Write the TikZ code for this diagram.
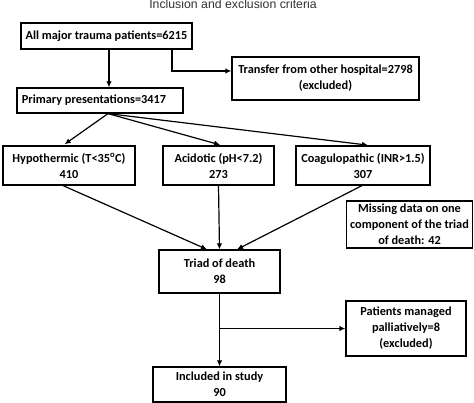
\documentclass[tikz,border=0pt]{standalone}
\usepackage{fontspec}
\setmainfont{Carlito}
\newfontfamily\titlefont{Liberation Sans}
\usetikzlibrary{arrows.meta}
\tikzset{
  box/.style={draw=black, line width=1.2pt, fill=white, align=center, inner sep=1pt,
    font=\bfseries\fontsize{12.3}{16}\selectfont},
  arr/.style={line width=1.2pt, -{Latex[length=6pt,width=5.5pt]}}
}
\begin{document}
\begin{tikzpicture}[x=1pt,y=-1pt]
\useasboundingbox[fill=white] (0,0) rectangle (474,403);
\node[font=\titlefont\fontsize{12.3}{14}\selectfont, text=black!80, anchor=base, inner sep=0pt] (title) at (233,9) {Inclusion and exclusion criteria};

\node[box, minimum width=171pt, minimum height=26pt] (b1) at (106.5,36) {All major trauma patients=6215};
\node[box, minimum width=166pt, minimum height=25pt] (b2) at (100,100.5) {Primary presentations=3417\hspace{12pt}};
\node[box, minimum width=187pt, minimum height=43pt] (tr) at (325.5,78.5) {Transfer from other hospital=2798\\(excluded)};
\node[box, minimum width=132pt, minimum height=39pt] (h) at (69,165.5) {Hypothermic (T<35\textsuperscript{o}C)\\410};
\node[box, minimum width=111pt, minimum height=39pt] (a) at (218.5,165.5) {Acidotic (pH<7.2)\\273};
\node[box, minimum width=134pt, minimum height=39pt] (c) at (363,165.5) {Coagulopathic (INR>1.5)\\307};
\node[box, minimum width=126pt, minimum height=47pt] (m) at (409.5,224.5) {Missing data on one\\component of the triad\\of death: 42};
\node[box, minimum width=121pt, minimum height=43pt] (t) at (219.5,271.5) {Triad of death\\98};
\node[box, minimum width=120pt, minimum height=55pt] (p) at (406,328.5) {Patients managed\\palliatively=8\\(excluded)};
\node[box, minimum width=133pt, minimum height=35pt] (i) at (219.5,384.5) {Included in study\\90};

\draw[arr] ([xshift=2.5pt]b1.south) -- ([xshift=2.5pt]b1.south |- b2.north);
\draw[arr] ([xshift=65.5pt]b1.south) |- ([yshift=7.5pt]tr.west);

\coordinate (b2o) at ([xshift=8pt]b2.south);
\draw[arr, shorten >=2pt] (b2o) -- ([xshift=-6pt]h.north);
\draw[arr, shorten >=2pt] (b2o) -- ([xshift=3.5pt]a.north);
\draw[arr, shorten >=2pt] (b2o) -- ([xshift=7pt]c.north);

\draw[arr] ([xshift=-6pt]h.south) -- ([xshift=-12.5pt]t.north);
\draw[arr] (a.south) -- (t.north);
\draw[arr] ([xshift=-1pt]c.south) -- ([xshift=17.5pt]t.north);

\draw[arr] (t.south) -- (i.north);
\draw[arr] (t.south |- p.west) -- (p.west);
\end{tikzpicture}
\end{document}
